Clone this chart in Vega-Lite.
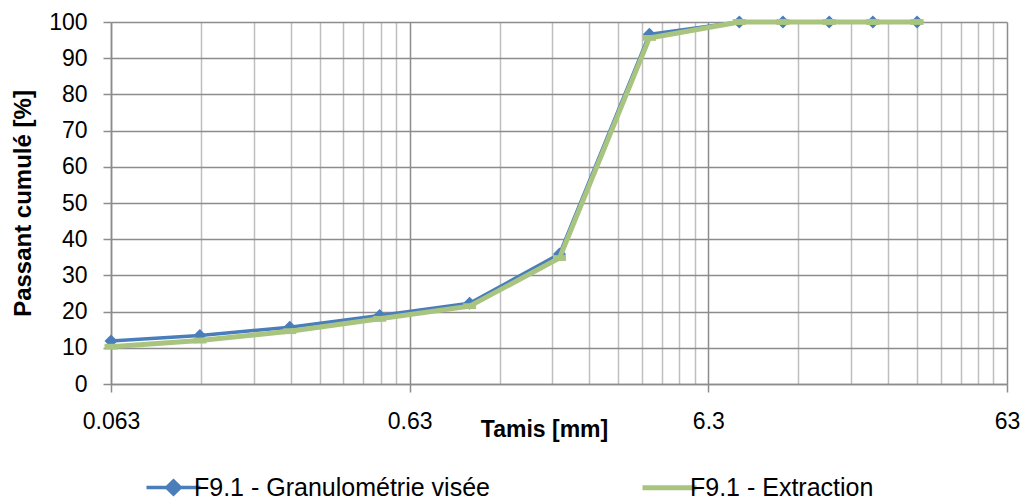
{
  "$schema": "https://vega.github.io/schema/vega-lite/v6.json",
  "width": 896,
  "height": 362,
  "autosize": {"type": "none"},
  "padding": {"left": 111, "top": 22, "right": 20, "bottom": 118},
  "background": "white",
  "config": {"view": {"stroke": null}, "font": "Liberation Sans"},
  "data": {
    "values": [
      {"tamis": 0.063, "passant": 11.9, "serie": "F9.1 - Granulométrie visée"},
      {"tamis": 0.125, "passant": 13.4, "serie": "F9.1 - Granulométrie visée"},
      {"tamis": 0.25, "passant": 15.7, "serie": "F9.1 - Granulométrie visée"},
      {"tamis": 0.5, "passant": 18.9, "serie": "F9.1 - Granulométrie visée"},
      {"tamis": 1, "passant": 22.3, "serie": "F9.1 - Granulométrie visée"},
      {"tamis": 2, "passant": 35.9, "serie": "F9.1 - Granulométrie visée"},
      {"tamis": 4, "passant": 96.6, "serie": "F9.1 - Granulométrie visée"},
      {"tamis": 8, "passant": 100, "serie": "F9.1 - Granulométrie visée"},
      {"tamis": 11.2, "passant": 100, "serie": "F9.1 - Granulométrie visée"},
      {"tamis": 16, "passant": 100, "serie": "F9.1 - Granulométrie visée"},
      {"tamis": 22.4, "passant": 100, "serie": "F9.1 - Granulométrie visée"},
      {"tamis": 31.5, "passant": 100, "serie": "F9.1 - Granulométrie visée"},
      {"tamis": 0.063, "passant": 10.3, "serie": "F9.1 - Extraction"},
      {"tamis": 0.125, "passant": 12.0, "serie": "F9.1 - Extraction"},
      {"tamis": 0.25, "passant": 14.6, "serie": "F9.1 - Extraction"},
      {"tamis": 0.5, "passant": 18.0, "serie": "F9.1 - Extraction"},
      {"tamis": 1, "passant": 21.5, "serie": "F9.1 - Extraction"},
      {"tamis": 2, "passant": 34.8, "serie": "F9.1 - Extraction"},
      {"tamis": 4, "passant": 95.6, "serie": "F9.1 - Extraction"},
      {"tamis": 8, "passant": 100, "serie": "F9.1 - Extraction"},
      {"tamis": 11.2, "passant": 100, "serie": "F9.1 - Extraction"},
      {"tamis": 16, "passant": 100, "serie": "F9.1 - Extraction"},
      {"tamis": 22.4, "passant": 100, "serie": "F9.1 - Extraction"},
      {"tamis": 31.5, "passant": 100, "serie": "F9.1 - Extraction"}
    ]
  },
  "encoding": {
    "x": {
      "field": "tamis",
      "type": "quantitative",
      "scale": {"type": "log", "domain": [0.063, 63], "nice": false},
      "axis": {
        "values": [0.063, 0.126, 0.189, 0.252, 0.315, 0.378, 0.441, 0.504, 0.567, 0.63, 1.26, 1.89, 2.52, 3.15, 3.78, 4.41, 5.04, 5.67, 6.3, 12.6, 18.9, 25.2, 31.5, 37.8, 44.1, 50.4, 56.7, 63],
        "labelExpr": "indexof([0.063, 0.63, 6.3, 63], datum.value) >= 0 ? '' + datum.value : ''",
        "labelFontSize": 23,
        "labelColor": "black",
        "labelPadding": 18,
        "labelFlush": false,
        "labelOverlap": false,
        "tickSize": 8,
        "tickWidth": 1.5,
        "tickColor": {"condition": {"test": "indexof([0.063, 0.63, 6.3, 63], datum.value) >= 0", "value": "#8c8c8c"}, "value": "transparent"},
        "grid": true,
        "gridWidth": 1.5,
        "gridColor": {"condition": {"test": "indexof([0.063, 0.63, 6.3, 63], datum.value) >= 0", "value": "#8c8c8c"}, "value": "#bebebe"},
        "gridOpacity": 1,
        "domainColor": "#8c8c8c",
        "domainWidth": 1.5,
        "title": "Tamis [mm]",
        "titleFontSize": 23,
        "titleFontWeight": "bold",
        "titleColor": "black",
        "titleX": 433,
        "titleY": 34,
        "titleBaseline": "top",
        "titleAlign": "center"
      }
    },
    "y": {
      "field": "passant",
      "type": "quantitative",
      "scale": {"domain": [0, 100], "nice": false},
      "axis": {
        "values": [0, 10, 20, 30, 40, 50, 60, 70, 80, 90, 100],
        "labelFontSize": 23,
        "labelColor": "black",
        "labelPadding": 16,
        "tickSize": 8,
        "tickWidth": 1.5,
        "tickColor": "#8c8c8c",
        "grid": true,
        "gridWidth": 1.5,
        "gridColor": "#8c8c8c",
        "gridOpacity": 1,
        "domainColor": "#8c8c8c",
        "domainWidth": 1.5,
        "title": "Passant cumulé [%]",
        "titleFontSize": 24,
        "titleFontWeight": "bold",
        "titleColor": "black",
        "titlePadding": 13
      }
    },
    "color": {
      "field": "serie",
      "type": "nominal",
      "scale": {"domain": ["F9.1 - Granulométrie visée", "F9.1 - Extraction"], "range": ["#4A7EBB", "#A8C47F"]},
      "legend": {
        "orient": "none",
        "legendX": 50,
        "legendY": 453,
        "direction": "horizontal",
        "title": null,
        "padding": 0,
        "symbolSize": 2916,
        "labelFontSize": 25,
        "labelColor": "black",
        "labelOffset": 8,
        "labelLimit": 600,
        "columnPadding": 142,
        "encode": {
          "symbols": {
            "update": {
              "shape": {"signal": "datum.value === 'F9.1 - Extraction' ? 'M-1,0L1,0' : 'M-1,0L1,0M-0.25,0L0,-0.24L0.25,0L0,0.24Z'"},
              "fill": {"signal": "datum.value === 'F9.1 - Extraction' ? 'transparent' : '#4A7EBB'"},
              "stroke": {"signal": "datum.value === 'F9.1 - Extraction' ? '#A8C47F' : '#4A7EBB'"},
              "strokeWidth": {"signal": "datum.value === 'F9.1 - Extraction' ? 5 : 3.5"},
              "opacity": {"value": 1}
            }
          }
        }
      }
    }
  },
  "layer": [
    {
      "transform": [{"filter": "datum.serie === 'F9.1 - Granulométrie visée'"}],
      "mark": {"type": "line", "strokeWidth": 3.5}
    },
    {
      "transform": [{"filter": "datum.serie === 'F9.1 - Granulométrie visée'"}],
      "mark": {"type": "point", "shape": "diamond", "filled": true, "size": 170, "opacity": 1}
    },
    {
      "transform": [{"filter": "datum.serie === 'F9.1 - Extraction'"}],
      "mark": {"type": "line", "strokeWidth": 5}
    },
    {
      "transform": [{"filter": "datum.serie === 'F9.1 - Extraction'"}],
      "mark": {"type": "point", "shape": "M-1,-0.45L1,-0.45L1,0.45L-1,0.45Z", "filled": true, "size": 169, "opacity": 1}
    }
  ]
}
